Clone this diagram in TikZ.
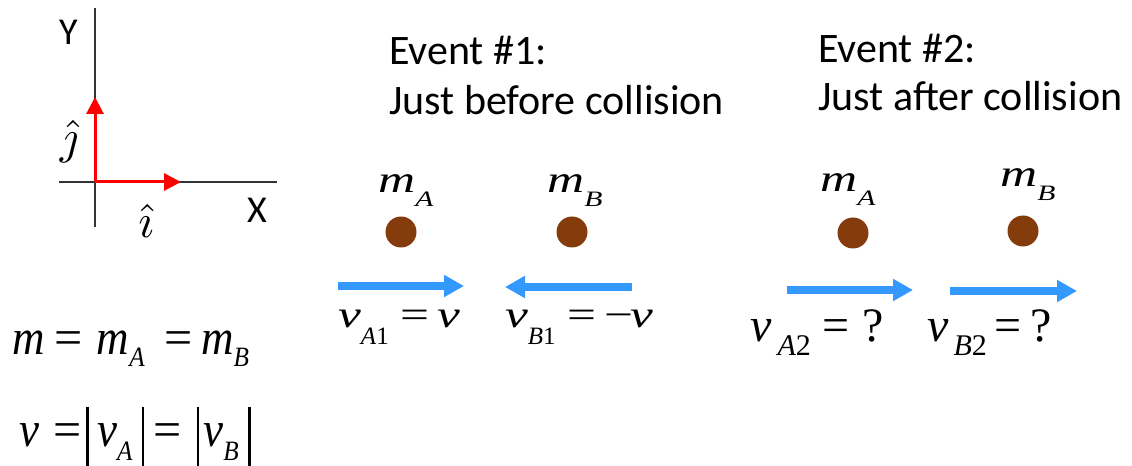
\documentclass[tikz,border=0pt]{standalone}
\usepackage{fontspec}
\setmainfont{Carlito}
\newfontfamily\tnr{Liberation Serif}
\newfontfamily\tnrw{Liberation Serif}[FakeStretch=1.35]
\newfontfamily\tnrn{Liberation Serif}[FakeStretch=0.9]
\usetikzlibrary{arrows.meta}
\definecolor{brn}{HTML}{843C0C}
\definecolor{blu}{HTML}{3399FF}
\definecolor{axgray}{HTML}{333333}
\newcommand\ssub[3]{\raisebox{-#1}{\fontsize{#2}{#2}\selectfont #3}}
\newcommand\vbar{\rule[-26bp]{2.8bp}{66bp}}
\begin{document}
\begin{tikzpicture}[x=1bp,y=-1bp,
  lbl/.style={font=\fontsize{42bp}{49bp}\selectfont, inner sep=0, anchor=base west},
  axlbl/.style={font=\fontsize{38bp}{40bp}\selectfont, inner sep=0, anchor=base west},
  eqw/.style={font=\tnrw\fontsize{38bp}{44bp}\selectfont, inner sep=0, anchor=base west},
  eq/.style={font=\tnr\fontsize{48bp}{52bp}\selectfont, inner sep=0, anchor=base west},
  eqb/.style={font=\tnrn\fontsize{50bp}{54bp}\selectfont, inner sep=0, anchor=base west},
  unit/.style={font=\normalsize, inner sep=0},
  axis/.style={draw=axgray, line width=1.5bp},
  redarrow/.style={draw=red, line width=3bp, -{Triangle[length=17bp,width=17bp]}},
  bluarrow/.style={draw=blu, line width=8bp, -{Triangle[length=20bp,width=21bp]}},
  mass/.style={circle, fill=brn, minimum size=31bp, inner sep=0}
]
\useasboundingbox (0,0) rectangle (1132,466);
% axes
\coordinate (O) at (95,182);
\coordinate (ytop) at (95,8);
\coordinate (ybot) at (95,227);
\coordinate (xl) at (59,182);
\coordinate (xr) at (277,182);
\coordinate (jt) at (95,97);
\coordinate (it) at (181,182);
\draw[axis] (ybot) -- (ytop);
\draw[axis] (xl) -- (xr);
\draw[redarrow] (O) -- (jt);
\draw[redarrow] (O) -- (it);
\node[axlbl] (Y) at (59,45) {Y};
\node[axlbl] (X) at (247,223) {X};
\node[unit] (jhat) at (69,142) {\scalebox{4.8}{$\hat{\jmath}$}};
\node[unit] (ihat) at (146,221) {\scalebox{4.8}{$\hat{\imath}$}};
% event titles
\node[lbl] (ev1a) at (389,65) {Event \#1:};
\node[lbl] (ev1b) at (389,115) {Just before collision};
\node[lbl] (ev2a) at (818,63) {Event \#2:};
\node[lbl] (ev2b) at (818,111) {Just after collision};
% masses
\node[eqw] (mA1) at (378,193) {\textit{m}\ssub{14bp}{22bp}{\textit{A}}};
\node[eqw] (mB1) at (547,193) {\textit{m}\ssub{14bp}{22bp}{\textit{B}}};
\node[eqw] (mA2) at (820,192) {\textit{m}\ssub{14bp}{22bp}{\textit{A}}};
\node[eqw] (mB2) at (1000,187) {\textit{m}\ssub{14bp}{22bp}{\textit{B}}};
\node[mass] (dA1) at (401,232) {};
\node[mass] (dB1) at (572,232) {};
\node[mass] (dA2) at (853,233) {};
\node[mass] (dB2) at (1023,231) {};
% velocity arrows
\coordinate (a1s) at (338,286);
\coordinate (a1e) at (464,286);
\coordinate (b1s) at (632,287);
\coordinate (b1e) at (505,287);
\coordinate (a2s) at (787,290);
\coordinate (a2e) at (913,290);
\coordinate (b2s) at (950,291);
\coordinate (b2e) at (1077,291);
\draw[bluarrow] (a1s) -- (a1e);
\draw[bluarrow] (b1s) -- (b1e);
\draw[bluarrow] (a2s) -- (a2e);
\draw[bluarrow] (b2s) -- (b2e);
% velocity labels
\node[eqw] (vA1) at (338,328) {\textit{v}\ssub{17bp}{25bp}{\tnr\textit{A}1}\hspace{12bp}=\hspace{8bp}\textit{v}};
\node[eqw] (vB1) at (505,328) {\textit{v}\ssub{17bp}{25bp}{\tnr\textit{B}1}\hspace{12bp}=\hspace{8bp}−\hspace{-3bp}\textit{v}};
\node[eq] (vA2) at (750,342) {\textit{v}\hspace{6bp}\ssub{14bp}{30bp}{\textit{A}2}\hspace{12bp}=\hspace{12bp}?};
\node[eq] (vB2) at (927,342) {\textit{v}\hspace{5bp}\ssub{14bp}{30bp}{\textit{B}2}\hspace{8bp}=\hspace{9bp}?};
% definitions
\node[eqb] (mdef) at (12,355) {\textit{m}\hspace{10bp}{\tnr =}\hspace{14bp}\textit{m}\ssub{12bp}{28bp}{\textit{A}}\hspace{20bp}{\tnr =}\hspace{8bp}\textit{m}\ssub{12bp}{28bp}{\textit{B}}};
\node[eqb] (vdef) at (19,447) {\textit{v}\hspace{14bp}{\tnr =}\hspace{5bp}\vbar\hspace{8bp}\textit{v}\ssub{13bp}{28bp}{\textit{A}}\hspace{9bp}\vbar\hspace{9bp}{\tnr =}\hspace{15bp}\vbar\hspace{4bp}\textit{v}\ssub{13bp}{28bp}{\textit{B}}\hspace{9bp}\vbar};
\end{tikzpicture}
\end{document}
